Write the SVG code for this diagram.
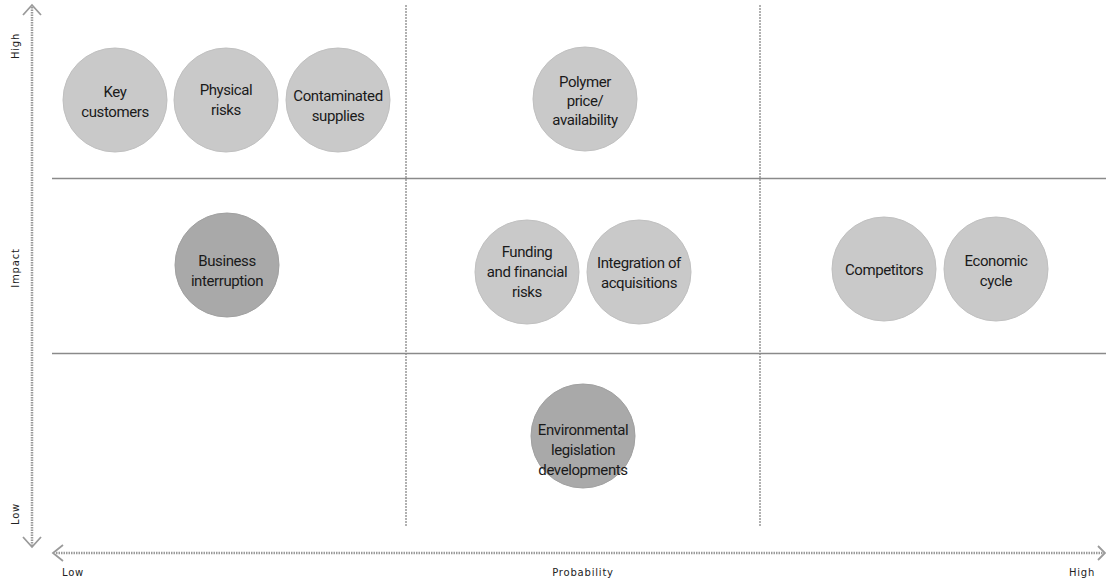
<svg xmlns="http://www.w3.org/2000/svg" width="1106" height="581" viewBox="0 0 1106 581">
<defs>
<style>
.bub{fill:#c9c9c9;stroke:#c0c0c0;stroke-width:1}
.dark{fill:#a9a9a9;stroke:#a0a0a0}
.lbl{font-family:Roboto,"Liberation Sans",sans-serif;font-size:15px;fill:#1a1a1a;text-anchor:middle;letter-spacing:-0.4px}
.ax{font-family:"DejaVu Sans","Liberation Sans",sans-serif;font-size:10px;fill:#222;letter-spacing:0.8px}
.grid{stroke:#8a8a8a;stroke-width:1.3;fill:none}
.vgrid{stroke:#888;stroke-width:1.3;stroke-dasharray:2 1;fill:none}
.axis{stroke:#9a9a9a;stroke-width:2.5;fill:none;stroke-dasharray:1.5 1}
.head{stroke:#9a9a9a;stroke-width:1.8;fill:none}
</style>
</defs>
<g id="connectors">
<line class="grid" x1="52" y1="178.5" x2="1106" y2="178.5"/>
<line class="grid" x1="52" y1="353.5" x2="1106" y2="353.5"/>
<line class="vgrid" x1="406" y1="5" x2="406" y2="527"/>
<line class="vgrid" x1="760" y1="5" x2="760" y2="527"/>
<line class="axis" x1="32" y1="7" x2="32" y2="546"/>
<polyline class="head" points="23,15 32,5 41,15"/>
<polyline class="head" points="23,537 32,547 41,537"/>
<line class="axis" x1="56" y1="553" x2="1104" y2="553"/>
<polyline class="head" points="63,545 53,553 63,561"/>
<polyline class="head" points="1098,546 1105,553 1098,560"/>
</g>
<g id="axis-labels">
<text class="ax" transform="translate(19,46) rotate(-90)" text-anchor="middle">High</text>
<text class="ax" transform="translate(19,268) rotate(-90)" text-anchor="middle">Impact</text>
<text class="ax" transform="translate(19,514) rotate(-90)" text-anchor="middle">Low</text>
<text class="ax" x="73" y="576" text-anchor="middle">Low</text>
<text class="ax" x="583" y="576" text-anchor="middle">Probability</text>
<text class="ax" x="1082" y="576" text-anchor="middle">High</text>
</g>
<g id="key-customers">
<circle class="bub" cx="115" cy="100" r="52"/>
<text class="lbl" x="115" y="97">Key</text>
<text class="lbl" x="115" y="117">customers</text>
</g>
<g id="physical-risks">
<circle class="bub" cx="226" cy="100" r="52"/>
<text class="lbl" x="226" y="95">Physical</text>
<text class="lbl" x="226" y="115">risks</text>
</g>
<g id="contaminated-supplies">
<circle class="bub" cx="338" cy="100" r="52"/>
<text class="lbl" x="338" y="101">Contaminated</text>
<text class="lbl" x="338" y="121">supplies</text>
</g>
<g id="polymer">
<circle class="bub" cx="585" cy="99" r="52"/>
<text class="lbl" x="585" y="87">Polymer</text>
<text class="lbl" x="585" y="106">price/</text>
<text class="lbl" x="585" y="125">availability</text>
</g>
<g id="business-interruption">
<circle class="bub dark" cx="227" cy="265" r="52"/>
<text class="lbl" x="227" y="266">Business</text>
<text class="lbl" x="227" y="286">interruption</text>
</g>
<g id="funding">
<circle class="bub" cx="527" cy="272" r="52"/>
<text class="lbl" x="527" y="257">Funding</text>
<text class="lbl" x="527" y="277">and financial</text>
<text class="lbl" x="527" y="297">risks</text>
</g>
<g id="integration">
<circle class="bub" cx="639" cy="272" r="52"/>
<text class="lbl" x="639" y="268">Integration of</text>
<text class="lbl" x="639" y="288">acquisitions</text>
</g>
<g id="competitors">
<circle class="bub" cx="884" cy="269" r="52"/>
<text class="lbl" x="884" y="275">Competitors</text>
</g>
<g id="economic-cycle">
<circle class="bub" cx="996" cy="269" r="52"/>
<text class="lbl" x="996" y="266">Economic</text>
<text class="lbl" x="996" y="286">cycle</text>
</g>
<g id="environmental">
<circle class="bub dark" cx="583" cy="436" r="52"/>
<text class="lbl" x="583" y="435">Environmental</text>
<text class="lbl" x="583" y="455">legislation</text>
<text class="lbl" x="583" y="475">developments</text>
</g>
</svg>
